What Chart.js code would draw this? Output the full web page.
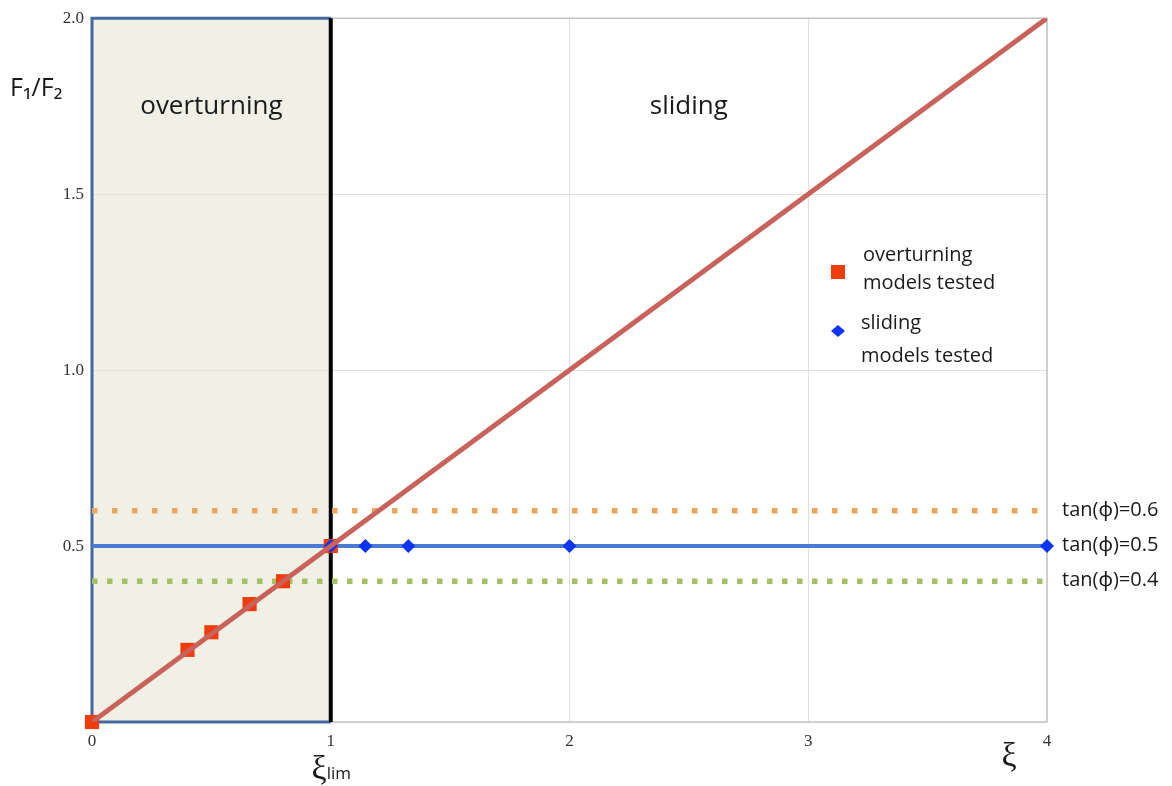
<!DOCTYPE html>
<html>
<head>
<meta charset="utf-8">
<script src="https://cdn.jsdelivr.net/npm/chart.js@4.4.0/dist/chart.umd.min.js"></script>
<style>
html,body{margin:0;padding:0;background:#fff;}
#wrap{width:1172px;height:786px;position:relative;}
</style>
</head>
<body>
<div id="wrap"><canvas id="c" width="1172" height="786"></canvas></div>
<script>
// ---- data ----
const xTicks = [0, 1, 2, 3, 4];
const yTicks = [0.5, 1.0, 1.5, 2.0];
const limitLineX = [0, 4];
const limitLineY = [0, 2];
const overturningX = [0, 0.40, 0.50, 0.66, 0.80, 1.0];
const overturningY = [0, 0.205, 0.255, 0.335, 0.40, 0.50];
const slidingX = [1.0, 1.145, 1.325, 2.0, 4.0];
const slidingY = [0.5, 0.5, 0.5, 0.5, 0.5];
const tanPhiValues = [0.6, 0.5, 0.4];
const tanPhiLabels = ['tan(\u03d5)=0.6', 'tan(\u03d5)=0.5', 'tan(\u03d5)=0.4'];
const xiLim = 1;
const regionLabels = ['overturning', 'sliding'];
const legendLabels = [['overturning', 'models tested'], ['sliding', 'models tested']];

const pts = (xs, ys) => xs.map((x, i) => ({x: x, y: ys[i]}));
const hline = (v) => limitLineX.map(x => ({x: x, y: v}));

const SANS = '"Open Sans", "Noto Sans", sans-serif';
const SERIF = '"Liberation Serif", "DejaVu Serif", serif';

const decor = {
  id: 'decor',
  beforeDraw(chart) {
    const {ctx, chartArea: a, scales: {x, y}} = chart;
    const x1 = x.getPixelForValue(xiLim);
    ctx.save();
    ctx.fillStyle = '#f1f0e7';
    ctx.fillRect(a.left, a.top, x1 - a.left, a.bottom - a.top);
    ctx.restore();
  },
  beforeDatasetsDraw(chart) {
    const {ctx, chartArea: a, scales: {x, y}} = chart;
    const x1 = x.getPixelForValue(xiLim);
    ctx.save();
    ctx.strokeStyle = '#c4c4c4';
    ctx.lineWidth = 1.5;
    ctx.strokeRect(a.left, a.top, a.right - a.left, a.bottom - a.top);
    ctx.strokeStyle = '#44689e';
    ctx.lineWidth = 3;
    ctx.beginPath();
    ctx.moveTo(x1, a.top); ctx.lineTo(a.left, a.top);
    ctx.lineTo(a.left, a.bottom); ctx.lineTo(x1, a.bottom);
    ctx.stroke();
    ctx.strokeStyle = '#000';
    ctx.lineWidth = 4;
    ctx.beginPath();
    ctx.moveTo(x1, a.top); ctx.lineTo(x1, a.bottom);
    ctx.stroke();
    ctx.restore();
  },
  afterDatasetsDraw(chart) {
    const {ctx, chartArea: a, scales: {x, y}} = chart;
    ctx.save();
    ctx.fillStyle = '#1a1a1a';
    ctx.textBaseline = 'middle';
    ctx.textAlign = 'center';
    ctx.font = '26px ' + SANS;
    ctx.fillText(regionLabels[0], x.getPixelForValue(0.5), 107);
    ctx.fillText(regionLabels[1], x.getPixelForValue(2.5), 107);
    // tan phi labels
    ctx.textAlign = 'left';
    ctx.font = '20px ' + SANS;
    tanPhiValues.forEach((v, i) => {
      ctx.fillText(tanPhiLabels[i], a.right + 15, y.getPixelForValue(v) - 1);
    });
    // legend
    ctx.font = '20px ' + SANS;
    ctx.fillStyle = '#f03c0c';
    ctx.fillRect(831, 265, 14, 14);
    ctx.fillStyle = '#1a1a1a';
    ctx.fillText(legendLabels[0][0], 863, 255);
    ctx.fillText(legendLabels[0][1], 863, 283);
    ctx.fillStyle = '#0b35f0';
    ctx.beginPath();
    ctx.moveTo(838, 325); ctx.lineTo(845, 331); ctx.lineTo(838, 337); ctx.lineTo(831, 331); ctx.closePath();
    ctx.fill();
    ctx.fillStyle = '#1a1a1a';
    ctx.fillText(legendLabels[1][0], 861, 323);
    ctx.fillText(legendLabels[1][1], 861, 356);
    // axis titles
    ctx.font = '25px ' + SANS;
    ctx.fillText('F\u2081/F\u2082', 10, 89);
    ctx.font = '34px ' + SERIF;
    ctx.textAlign = 'right';
    ctx.fillText('\u03be', x.getPixelForValue(xiLim) - 4, 770);
    ctx.textAlign = 'left';
    ctx.font = '17px ' + SANS;
    ctx.fillText('lim', x.getPixelForValue(xiLim) - 4, 774);
    ctx.font = '34px ' + SERIF;
    ctx.textAlign = 'center';
    ctx.fillText('\u03be', 1009, 757);
    ctx.restore();
  }
};

new Chart(document.getElementById('c'), {
  type: 'scatter',
  data: {
    datasets: [
      {label: 'limit', data: pts(limitLineX, limitLineY), showLine: true, borderColor: '#c9625a', borderWidth: 5, pointRadius: 0, order: 0},
      {label: 'sliding', data: pts(slidingX, slidingY), showLine: false, clip: false, pointStyle: 'rectRot', pointRadius: 7, backgroundColor: '#0b35f0', borderColor: '#0b35f0', borderWidth: 0, order: 1},
      {label: 'overturning', data: pts(overturningX, overturningY), showLine: false, clip: false, pointStyle: 'rect', pointRadius: 10, backgroundColor: '#f03c0c', borderColor: '#f03c0c', borderWidth: 0, order: 2},
      {label: 't05', data: hline(tanPhiValues[1]), showLine: true, borderColor: '#4a7bd4', borderWidth: 4, pointRadius: 0, order: 3},
      {label: 't06', data: hline(tanPhiValues[0]), showLine: true, borderColor: '#eaa75a', borderWidth: 5.5, borderDash: [5.5, 14.5], pointRadius: 0, order: 4},
      {label: 't04', data: hline(tanPhiValues[2]), showLine: true, borderColor: '#a3c163', borderWidth: 5.5, borderDash: [5.5, 9.5], pointRadius: 0, order: 5}
    ]
  },
  options: {
    responsive: false,
    animation: false,
    events: [],
    layout: {padding: {left: 0, top: 15, right: 125, bottom: 0}},
    plugins: {legend: {display: false}, tooltip: {enabled: false}},
    scales: {
      x: {
        type: 'linear', min: 0, max: 4,
        afterFit(s) { s.height = 64; },
        afterBuildTicks(s) { s.ticks = xTicks.map(v => ({value: v})); },
        grid: {color: '#e0e0e0', lineWidth: 1, drawTicks: false},
        border: {display: false},
        ticks: {padding: 9, color: '#333', font: {family: SERIF, size: 17}, callback: v => String(v)}
      },
      y: {
        type: 'linear', min: 0, max: 2,
        afterFit(s) { s.width = 92; },
        afterBuildTicks(s) { s.ticks = [0].concat(yTicks).map(v => ({value: v})); },
        grid: {color: '#e0e0e0', lineWidth: 1, drawTicks: false},
        border: {display: false},
        ticks: {padding: 8, color: '#333', font: {family: SERIF, size: 17}, callback: v => v === 0 ? '' : v.toFixed(1)}
      }
    }
  },
  plugins: [decor]
});
</script>
</body>
</html>
